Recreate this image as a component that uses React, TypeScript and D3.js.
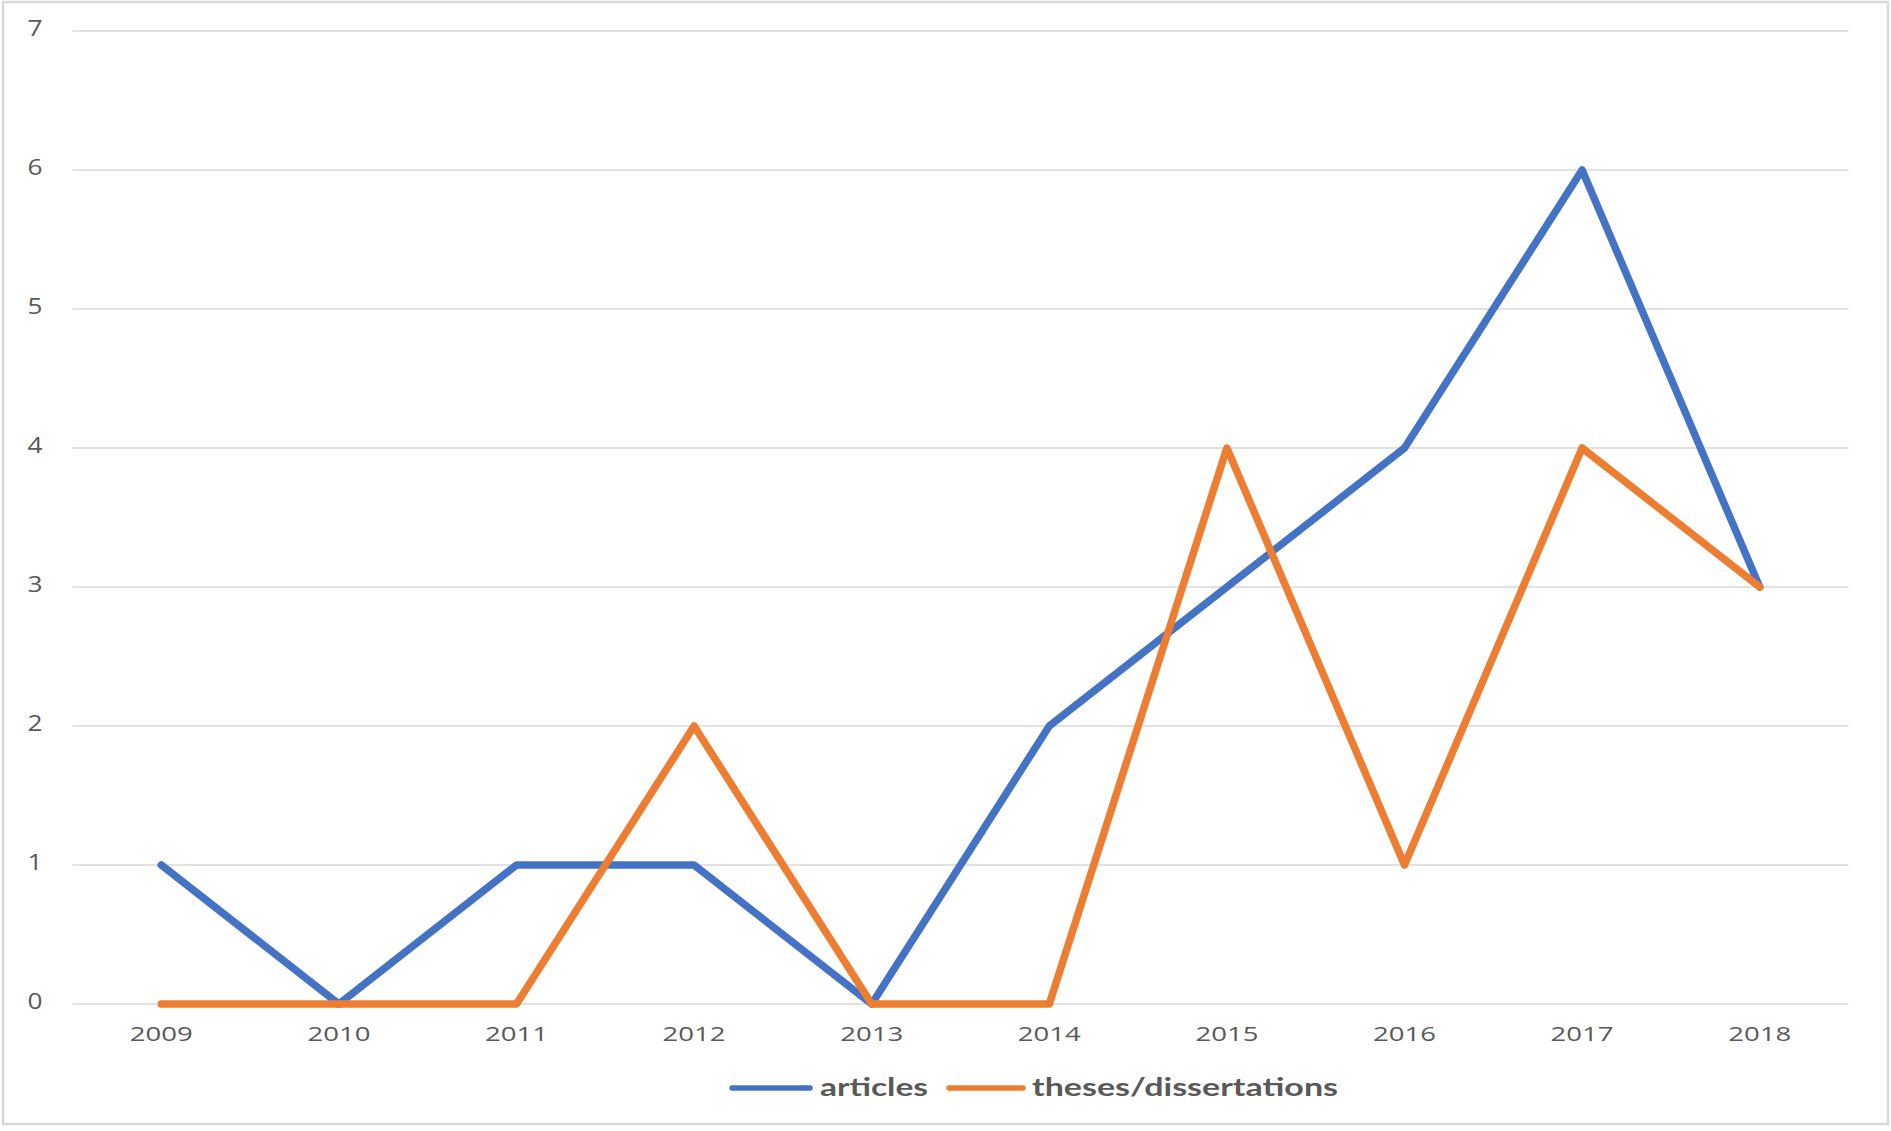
import React from "react";
import * as d3 from "d3";

const years = ["2009", "2010", "2011", "2012", "2013", "2014", "2015", "2016", "2017", "2018"];
const articles = [1, 0, 1, 1, 0, 2, 3, 4, 6, 3];
const theses = [0, 0, 0, 2, 0, 0, 4, 1, 4, 3];
const yTicks = [0, 1, 2, 3, 4, 5, 6, 7];
const seriesNames = ["articles", "theses/dissertations"];
const seriesColors = ["#4472C4", "#ED7D31"];

const W = 1891;
const H = 1131;
const left = 72.5;
const right = 1848.5;
const top = 31;
const bottom = 1004;

export default function App() {
  const x = d3.scaleBand<string>().domain(years).range([left, right]);
  const y = d3.scaleLinear().domain([0, 7]).range([bottom, top]);
  const cx = (yr: string) => (x(yr) as number) + x.bandwidth() / 2;
  const line = d3
    .line<number>()
    .x((_, i) => cx(years[i]))
    .y((d) => y(d));
  const series = [articles, theses];
  const font = "'Open Sans', 'Liberation Sans', sans-serif";
  const legendFont = "Lato, 'Open Sans', sans-serif";
  return (
    <svg
      width={W}
      height={H}
      style={{ position: "absolute", left: 0, top: 0, background: "#fff" }}
    >
      <rect x={3} y={2} width={1885} height={1122} fill="#fff" stroke="#d9d9d9" strokeWidth={2.5} />
      {yTicks.map((t) => (
        <g key={t}>
          <line x1={left} x2={right} y1={y(t)} y2={y(t)} stroke="#d9d9d9" strokeWidth={1.5} />
          <text
            x={35}
            y={y(t) - 2}
            dy="0.35em"
            textAnchor="middle"
            fontFamily={font}
            fontSize={21}
            fill="#595959"
            transform={`translate(35,0) scale(1.25,1) translate(-35,0)`}
          >
            {t}
          </text>
        </g>
      ))}
      {years.map((yr) => (
        <text
          key={yr}
          x={cx(yr) - 31.5}
          y={1034}
          dy="0.35em"
          fontFamily={font}
          fontSize={20}
          fill="#595959"
          textLength={63}
          lengthAdjust="spacingAndGlyphs"
        >
          {yr}
        </text>
      ))}
      {series.map((s, i) => (
        <path
          key={i}
          d={line(s) as string}
          fill="none"
          stroke={seriesColors[i]}
          strokeWidth={7.5}
          strokeLinejoin="round"
          strokeLinecap="round"
        />
      ))}
      <g>
        <line x1={732} x2={810} y1={1088} y2={1088} stroke={seriesColors[0]} strokeWidth={5.5} strokeLinecap="round" />
        <text
          x={820}
          y={1087}
          dy="0.35em"
          fontFamily={legendFont}
          fontWeight={700}
          fontSize={25}
          fill="#595959"
          textLength={108}
          lengthAdjust="spacingAndGlyphs"
        >
          {seriesNames[0]}
        </text>
        <line x1={949} x2={1023} y1={1088} y2={1088} stroke={seriesColors[1]} strokeWidth={5.5} strokeLinecap="round" />
        <text
          x={1032}
          y={1087}
          dy="0.35em"
          fontFamily={legendFont}
          fontWeight={700}
          fontSize={25}
          fill="#595959"
          textLength={306}
          lengthAdjust="spacingAndGlyphs"
        >
          {seriesNames[1]}
        </text>
      </g>
    </svg>
  );
}
